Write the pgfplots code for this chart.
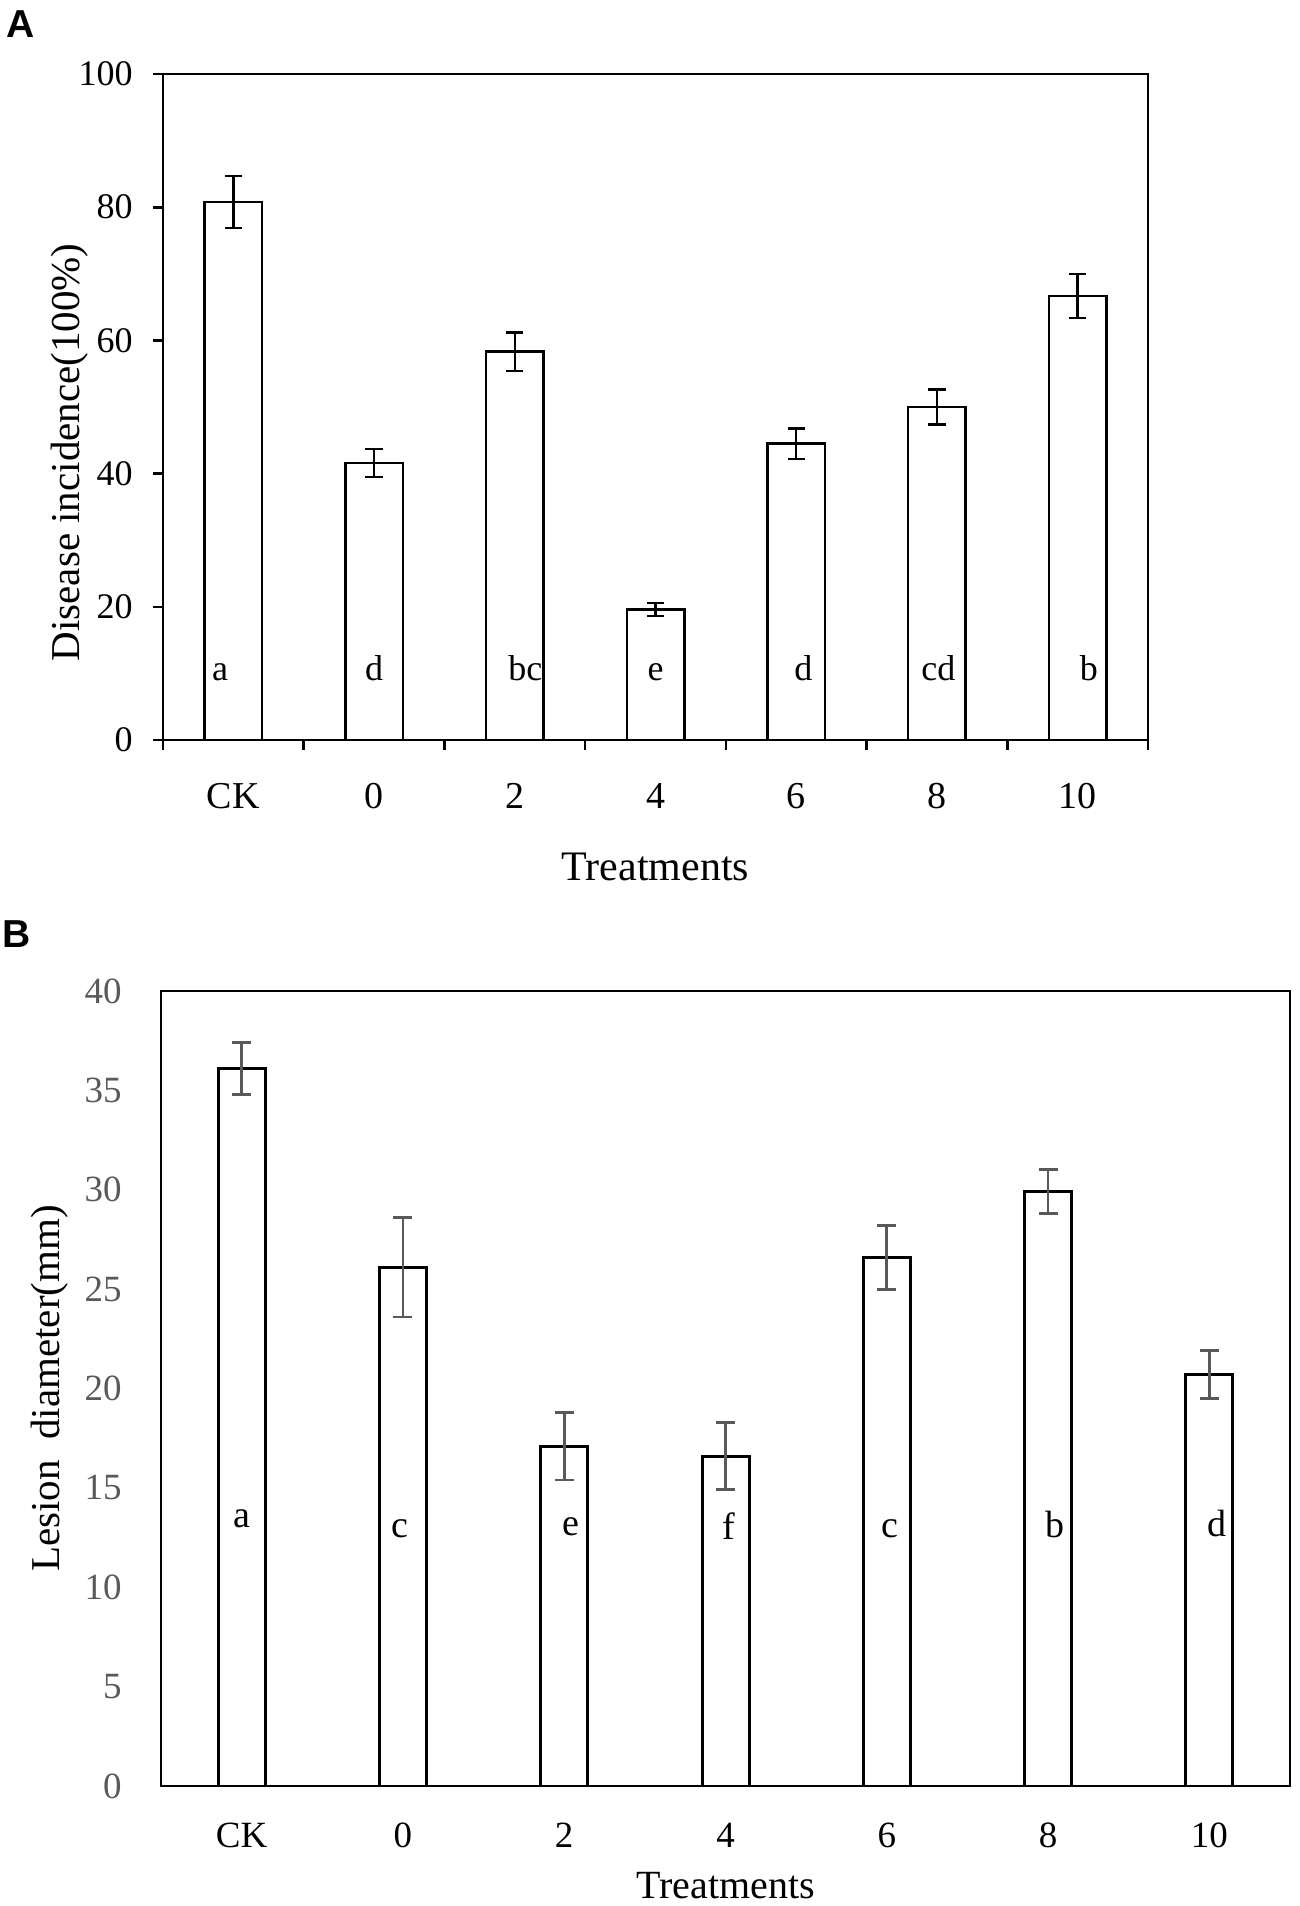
\documentclass[border=0pt]{standalone}
\usepackage{fontspec}
\setmainfont{Liberation Serif}
\newfontfamily\panelfont{Liberation Sans}
\usepackage{pgfplots}
\pgfplotsset{compat=1.18}
\usepackage{pgfplotstable}
\definecolor{tickgray}{HTML}{595959}

\pgfplotstableread{
x y e
0 80.8 3.9
1 41.6 2.1
2 58.3 2.9
3 19.6 1.0
4 44.5 2.3
5 50.0 2.6
6 66.7 3.3
}\dataA

\pgfplotstableread{
x y e
0 36.1 1.3
1 26.1 2.5
2 17.1 1.7
3 16.6 1.7
4 26.6 1.6
5 29.9 1.1
6 20.7 1.2
}\dataB

\begin{document}
\begin{tikzpicture}
\path[use as bounding box] (0pt,0pt) rectangle (650pt,-953pt);
\node[anchor=base west, inner sep=0pt, font=\panelfont\bfseries\fontsize{19.5}{20}\selectfont] at (3pt,-18.5pt) {A};
\node[anchor=base west, inner sep=0pt, font=\panelfont\bfseries\fontsize{19.5}{20}\selectfont] at (1pt,-473.5pt) {B};

% ---------------- Panel A ----------------
\begin{axis}[
  at={(81.5pt,-37pt)}, anchor=north west,
  scale only axis, width=492.5pt, height=333pt,
  xmin=-0.5, xmax=6.5, ymin=0, ymax=100,
  enlargelimits=false,
  axis line style={line width=1.3pt},
  /pgf/number format/assume math mode=true,
  xtick={0,...,6}, xticklabels={CK,0,2,4,6,8,10},
  minor xtick={-0.5,0.5,...,6.5},
  ytick={0,20,...,100},
  xtick pos=lower, ytick pos=left,
  tick align=outside,
  major tick length=5pt, minor tick length=5pt,
  major x tick style={draw=none},
  tick style={line width=1.3pt, black},
  xticklabel style={font=\fontsize{19}{19}\selectfont, anchor=base, yshift=-29pt},
  yticklabel style={font=\fontsize{18}{18}\selectfont, anchor=east, inner sep=0pt, xshift=-10pt},
  xlabel={Treatments},
  xlabel style={at={(axis description cs:0.5,-0.2102)}, anchor=base, font=\fontsize{21}{21}\selectfont},
  ylabel={Disease incidence(100\%)},
  ylabel style={at={(axis description cs:-0.0843,0.432)}, anchor=base, font=\fontsize{20.5}{20.5}\selectfont},
]
\addplot[ybar, bar width=28.75pt, bar shift=0pt, draw=black, fill=white, line width=1.25pt,
  error bars/.cd, y dir=both, y explicit,
  error bar style={line width=1.2pt, black},
  error mark options={line width=1.2pt, black, mark size=4.3pt, rotate=90}]
  table[x=x, y=y, y error=e] {\dataA};
\begin{scope}[every node/.style={anchor=base, font=\fontsize{18}{18}\selectfont, inner sep=0pt}]
\node at (axis cs:-0.095,9) {a};
\node at (axis cs:1.0,9) {d};
\node at (axis cs:2.075,9) {bc};
\node at (axis cs:3.0,9) {e};
\node at (axis cs:4.05,9) {d};
\node at (axis cs:5.01,9) {cd};
\node at (axis cs:6.08,9) {b};
\end{scope}
\end{axis}

% ---------------- Panel B ----------------
\begin{axis}[
  at={(80.5pt,-495.5pt)}, anchor=north west,
  scale only axis, width=564.5pt, height=397.5pt,
  xmin=-0.5, xmax=6.5, ymin=0, ymax=40,
  enlargelimits=false,
  axis line style={line width=1.4pt},
  /pgf/number format/assume math mode=true,
  xtick={0,...,6}, xticklabels={CK,0,2,4,6,8,10},
  ytick={0,5,...,40},
  major tick length=0pt,
  tick style={draw=none},
  xticklabel style={font=\fontsize{18.5}{18.5}\selectfont, anchor=base, yshift=-30.5pt},
  yticklabel style={font=\fontsize{18.5}{18.5}\selectfont, text=tickgray, anchor=east, inner sep=0pt, xshift=-19.5pt},
  xlabel={Treatments},
  xlabel style={at={(axis description cs:0.5,-0.1409)}, anchor=base, font=\fontsize{20}{20}\selectfont},
  ylabel={Lesion\ \ diameter(mm)},
  ylabel style={at={(axis description cs:-0.0895,0.5)}, anchor=base, font=\fontsize{20.5}{20.5}\selectfont},
]
\addplot[ybar, bar width=23.5pt, bar shift=0pt, draw=black, fill=white, line width=1.5pt,
  error bars/.cd, y dir=both, y explicit,
  error bar style={line width=1.4pt, tickgray},
  error mark options={line width=1.4pt, tickgray, mark size=4.75pt, rotate=90}]
  table[x=x, y=y, y error=e] {\dataB};
\begin{scope}[every node/.style={anchor=base, font=\fontsize{19}{19}\selectfont, inner sep=0pt}]
\node at (axis cs:0.0,13.0) {a};
\node at (axis cs:0.98,12.5) {c};
\node at (axis cs:2.04,12.6) {e};
\node at (axis cs:3.02,12.4) {f};
\node at (axis cs:4.02,12.5) {c};
\node at (axis cs:5.04,12.5) {b};
\node at (axis cs:6.05,12.55) {d};
\end{scope}
\end{axis}
\end{tikzpicture}
\end{document}
